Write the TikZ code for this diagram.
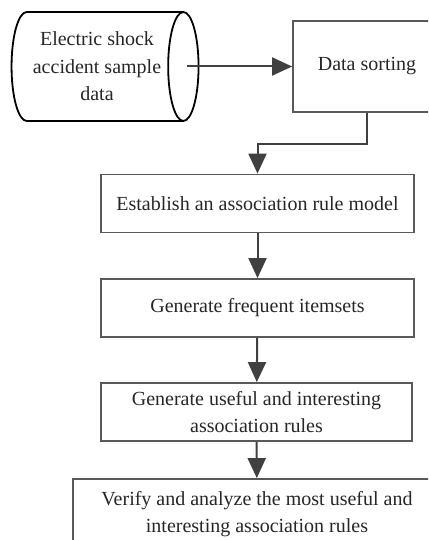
\documentclass[tikz,border=0pt]{standalone}
\usepackage{fontspec}
\setmainfont{Liberation Serif}
\usetikzlibrary{arrows.meta,shapes.geometric}

\begin{document}
\begin{tikzpicture}[x=0.5pt, y=-0.5pt, line width=0.9pt,
		every node/.style={font=\fontsize{10}{13.75}\selectfont, text=black!85, align=center, inner sep=0pt},
		box/.style={rectangle, draw=black!65, minimum height=29pt},
		arr/.style={draw=black!75, line width=1pt, -{Triangle[length=10pt,width=9pt]}}]
		\useasboundingbox (0,0) rectangle (428,540);
		\clip (0,0) rectangle (428,540);
		\node[cylinder, draw=black, aspect=0.44, minimum height=93.5pt, minimum width=54.5pt] (data) at (97,66.5) {Electric shock\\accident sample\\data};
		\node[box, minimum width=74pt, minimum height=45.5pt] (sort) at (367,66.5) {Data sorting};
		\node[box, minimum width=156.5pt] (model) at (257.5,203.5) {Establish an association rule model};
		\node[box, minimum width=156.5pt] (freq) at (257.5,308) {Generate frequent itemsets};
		\node[box, minimum width=155.5pt] (rules) at (256.5,412) {Generate useful and interesting\\association rules};
		\node[box, minimum width=184pt, minimum height=35pt] (verify) at (257,514) {Verify and analyze the most useful and\\interesting association rules};
		\draw[arr] ([xshift=-6pt]data.top) -- (sort);
		\draw[arr] (sort.south) -- ++(0,31) -| (model.north);
		\draw[arr] (model) -- (freq);
		\draw[arr] (freq) -- (rules);
		\draw[arr] (rules) -- (verify);
	\end{tikzpicture}
\end{document}
